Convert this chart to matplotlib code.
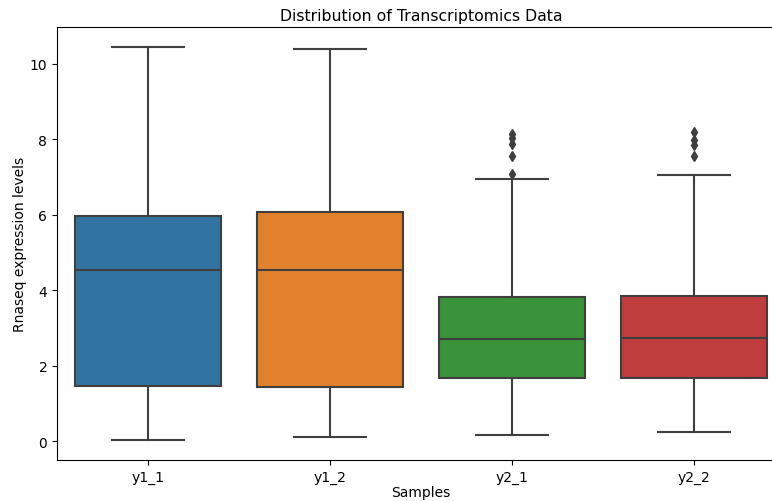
import matplotlib
matplotlib.use("Agg")
import matplotlib.pyplot as plt

# --- summary values ---
samples = ["y1_1", "y1_2", "y2_1", "y2_2"]
whisker_low = [0.05, 0.12, 0.16, 0.26]
q1 = [1.47, 1.43, 1.69, 1.69]
median = [4.53, 4.53, 2.70, 2.73]
q3 = [5.98, 6.07, 3.83, 3.85]
whisker_high = [10.45, 10.40, 6.96, 7.06]
outliers = [
    [],
    [],
    [8.14, 8.02, 7.88, 7.55, 7.08],
    [8.18, 7.98, 7.84, 7.55],
]

colors = ["#3274a1", "#e1812c", "#3a923a", "#c03d3e"]
line_col = "#3f3f3f"

stats = []
for i, name in enumerate(samples):
    stats.append({
        "label": name,
        "whislo": whisker_low[i],
        "q1": q1[i],
        "med": median[i],
        "q3": q3[i],
        "whishi": whisker_high[i],
        "fliers": outliers[i],
    })

fig = plt.figure(figsize=(7.72, 5.02), dpi=100)
ax = fig.add_axes([57 / 772, 1 - 461 / 502, 728 / 772, 433 / 502])

bp = ax.bxp(stats, positions=range(len(samples)), widths=0.8, patch_artist=True,
            boxprops=dict(edgecolor=line_col, linewidth=1.5),
            whiskerprops=dict(color=line_col, linewidth=1.5),
            capprops=dict(color=line_col, linewidth=1.5),
            medianprops=dict(color=line_col, linewidth=1.5),
            flierprops=dict(marker="d", markerfacecolor=line_col, markeredgecolor=line_col,
                            markersize=5, linestyle="none"),
            capwidths=0.4)
for patch, c in zip(bp["boxes"], colors):
    patch.set_facecolor(c)

ax.set_xlim(-0.5, 3.5)
ax.set_ylim(-0.49, 10.97)
ax.set_yticks([0, 2, 4, 6, 8, 10])
ax.set_title("Distribution of Transcriptomics Data", fontsize=11.3, pad=5)
ax.set_xlabel("Samples", labelpad=1)
ax.set_ylabel("Rnaseq expression levels", labelpad=2)

fig.savefig("out.png", dpi=100)
